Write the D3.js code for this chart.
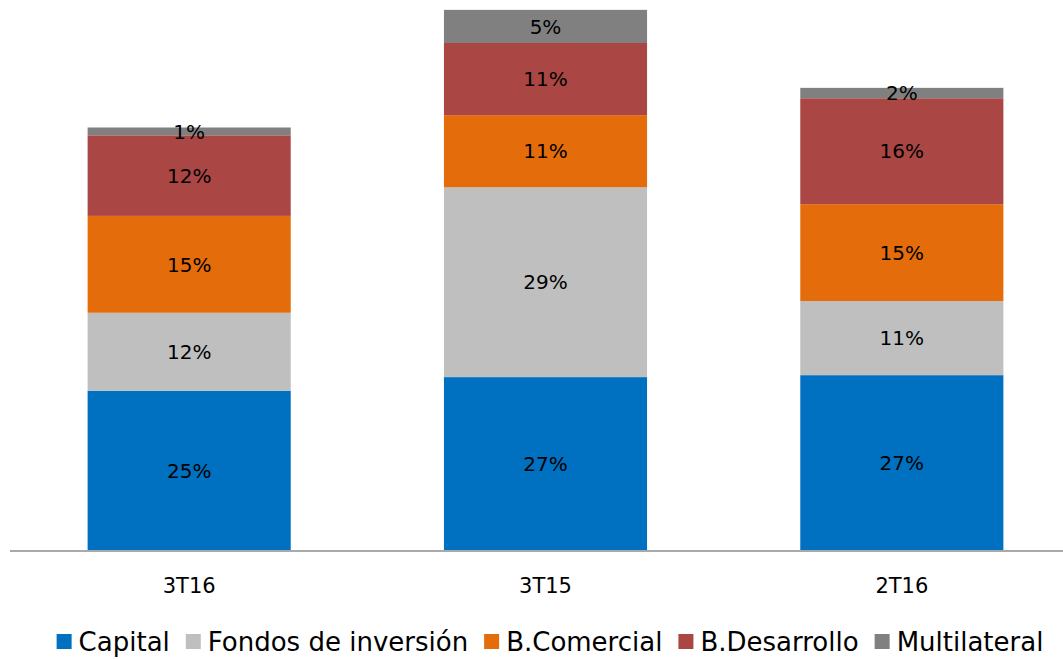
<!DOCTYPE html>
<html>
<head>
<meta charset="utf-8">
<script src="https://cdn.jsdelivr.net/npm/d3@7"></script>
<style>
  html, body { margin: 0; padding: 0; background: #fff; }
  svg { display: block; font-family: "DejaVu Sans", Verdana, sans-serif; }
</style>
</head>
<body>
<svg id="chart" width="1063" height="659"></svg>
<script>
// Periods on the horizontal axis
const periods = ["3T16", "3T15", "2T16"];

// Funding source names (stack order, bottom to top)
const sources = ["Capital", "Fondos de inversión", "B.Comercial", "B.Desarrollo", "Multilateral"];

// Share of each source per period, in percent
const capital      = [24.5, 26.6, 26.9];
const fondos       = [12.0, 29.2, 11.4];
const comercial    = [14.9, 11.1, 14.9];
const desarrollo   = [12.4, 11.1, 16.3];
const multilateral = [1.2, 5.1, 1.6];

const colors = ["#0070C0", "#BFBFBF", "#E46C0A", "#AA4643", "#808080"];

const seriesValues = [capital, fondos, comercial, desarrollo, multilateral];
const rows = periods.map((p, i) => {
  const r = { period: p };
  sources.forEach((s, k) => { r[s] = seriesValues[k][i]; });
  return r;
});

const svg = d3.select("#chart");

const baseY = 550;
const x = d3.scaleBand()
  .domain(periods)
  .range([11, 1080])
  .paddingInner(0.43)
  .paddingOuter(0.215);

const y = d3.scaleLinear()
  .domain([0, 85])
  .range([baseY, baseY - 85 * 6.5]);

const color = d3.scaleOrdinal().domain(sources).range(colors);

const stacked = d3.stack().keys(sources)(rows);

const fmt = v => d3.format(".0f")(v) + "%";

const layers = svg.append("g")
  .selectAll("g")
  .data(stacked)
  .join("g")
  .attr("fill", d => color(d.key));

layers.selectAll("rect")
  .data(d => d)
  .join("rect")
  .attr("x", d => x(d.data.period))
  .attr("width", x.bandwidth())
  .attr("y", d => y(d[1]))
  .attr("height", d => y(d[0]) - y(d[1]));

// Value labels centred in each segment
const labels = svg.append("g")
  .attr("font-size", 20)
  .attr("fill", "#000")
  .attr("text-anchor", "middle");

stacked.forEach(layer => {
  labels.selectAll(null)
    .data(layer)
    .join("text")
    .attr("x", d => x(d.data.period) + x.bandwidth() / 2)
    .attr("y", d => (y(d[0]) + y(d[1])) / 2)
    .attr("dy", "0.36em")
    .text(d => fmt(d[1] - d[0]));
});

// Category axis
const xAxis = svg.append("g")
  .attr("transform", `translate(0,${baseY + 1})`)
  .call(d3.axisBottom(x).tickSize(0).tickPadding(27));
xAxis.select(".domain")
  .attr("d", "M10,0H1063")
  .attr("stroke", "#8c8c8c")
  .attr("stroke-width", 1.5);
xAxis.selectAll(".tick text")
  .attr("font-size", 21)
  .attr("font-family", "'DejaVu Sans', Verdana, sans-serif")
  .attr("fill", "#000");

// Legend along the bottom
const legend = svg.append("g").attr("font-size", 26);
const items = legend.selectAll("g")
  .data(sources)
  .join("g");
items.append("rect")
  .attr("width", 15)
  .attr("height", 15)
  .attr("y", 634)
  .attr("fill", d => color(d));
items.append("text")
  .attr("x", 22)
  .attr("y", 651)
  .attr("fill", "#000")
  .text(d => d);

let cursor = 0;
const offsets = [];
items.each(function () {
  const w = this.querySelector("text").getComputedTextLength();
  offsets.push(cursor);
  cursor += 22 + w + 16;
});
const total = cursor - 16;
const start = 550 - total / 2;
items.attr("transform", (d, i) => `translate(${start + offsets[i]},0)`);
</script>
</body>
</html>
